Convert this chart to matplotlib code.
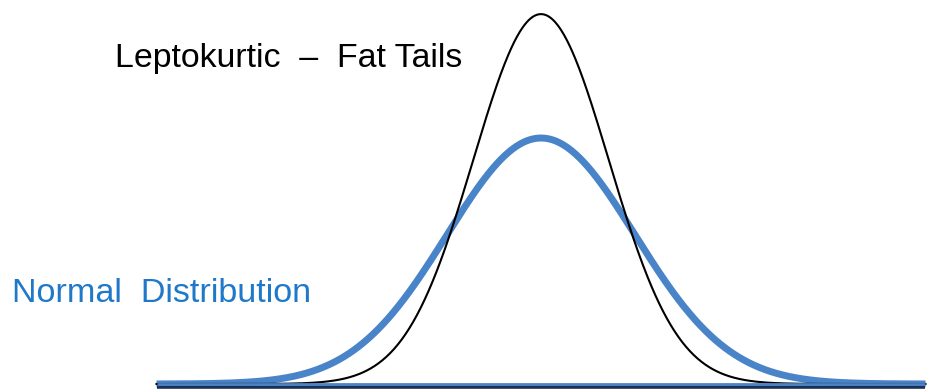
import numpy as np
import matplotlib.pyplot as plt

# curve parameters (blue sd = 1 unit)
normal_mean, normal_sd, normal_peak = 0.0, 1.0, 0.399
lepto_mean, lepto_sd, lepto_peak = 0.0, 0.72, 0.60
labels = ['Leptokurtic  –  Fat Tails', 'Normal  Distribution']

x = np.linspace(-4.09, 4.09, 801)
normal_y = normal_peak * np.exp(-0.5 * ((x - normal_mean) / normal_sd) ** 2)
lepto_y = lepto_peak * np.exp(-0.5 * ((x - lepto_mean) / lepto_sd) ** 2)

plt.rcParams['font.family'] = ['Liberation Sans', 'DejaVu Sans']
fig = plt.figure(figsize=(9.33, 3.9), dpi=100)
ax = fig.add_axes([0, 0, 1, 1])

ax.plot(x, lepto_y, color='black', lw=1.5, zorder=3)
ax.plot(x, normal_y, color='#4a84c8', lw=5, zorder=2, solid_capstyle='butt')

# baseline: blue on top of a dark navy edge
ax.plot([-4.09, 4.09], [-0.0045, -0.0045], color='#1c2f55', lw=2.6, solid_capstyle='butt', zorder=4)
ax.plot([-4.09, 4.09], [0.0, 0.0], color='#4a84c8', lw=2.0, solid_capstyle='butt', zorder=5)

ax.text(0.123, 0.828, labels[0], transform=ax.transAxes, fontsize=24.4,
        color='black', va='baseline', ha='left')
ax.text(0.013, 0.226, labels[1], transform=ax.transAxes, fontsize=24.6,
        color='#1f78c8', va='baseline', ha='left')

ax.set_xlim(-541 / 94, 392 / 94)
ax.set_ylim(-6 / 616.5, 384 / 616.5)
ax.axis('off')

fig.savefig('out.png', dpi=100)
